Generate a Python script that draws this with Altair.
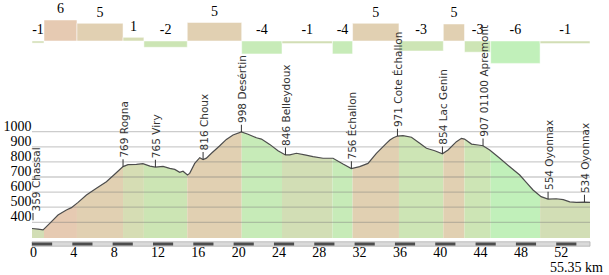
import altair as alt
import pandas as pd

TOTAL_KM = 55.35

# ---- elevation profile (km, metres) ----
prof_km = [0.0, 0.6, 1.1, 1.76, 2.58, 3.41, 3.91, 4.57, 5.4, 6.39, 7.38, 8.2, 9.03,
           9.52, 10.36, 11.0, 11.7, 12.24, 13.0, 13.66, 14.16, 14.65, 14.98, 15.42,
           15.64, 16.14, 16.64, 16.97, 17.3, 17.8, 18.6, 19.28, 19.94, 20.77, 21.43,
           22.26, 22.76, 23.58, 24.4, 25.14, 25.57, 26.23, 27.06, 27.88, 28.87, 29.86,
           30.85, 31.68, 32.5, 33.33, 34.16, 35.15, 35.5, 35.85, 36.25, 36.8, 37.64,
           38.46, 39.13, 39.95, 40.71, 41.27, 42.1, 42.6, 42.9, 43.6, 44.25, 44.74,
           45.4, 46.4, 47.39, 48.38, 49.05, 49.7, 50.5, 51.19, 52.0, 52.7, 53.34,
           54.0, 54.8, 55.35]
prof_elev = [359, 355, 350, 393, 448, 482, 497, 532, 581, 625, 669, 718, 769,
             782, 784, 788, 772, 765, 770, 757, 750, 731, 738, 713,
             724, 790, 828, 816, 825, 857, 905, 949, 978, 998, 983,
             960, 951, 916, 874, 846, 846, 857, 846, 835, 824, 824,
             786, 756, 769, 790, 857, 923, 945, 960, 971, 974, 963,
             923, 890, 874, 854, 879, 934, 956, 951, 918, 912, 907,
             879, 824, 768, 713, 662, 614, 570, 554, 556, 550, 535,
             532, 534, 532]

# ---- gradient segments (km, %) ----
seg_start = [0.0, 1.19, 4.46, 9.03, 11.1, 15.4, 20.8, 24.8, 29.8, 31.8, 36.4, 40.8, 42.9, 45.5, 50.4]
seg_grade = [-0.6, 6.0, 5.05, 1.05, -1.8, 5.3, -3.7, -0.75, -3.7, 5.05, -2.86, 4.86, -3.2, -6.4, -0.75]

# ---- named points ----
label_km = [0.0, 9.03, 12.24, 16.97, 20.77, 25.14, 31.68, 36.25, 40.71, 44.74, 51.19, 54.8]
label_elev = [359, 769, 765, 816, 998, 846, 756, 971, 854, 907, 554, 534]
label_name = ["Chassal", "Rogna", "Viry", "Choux", "Desértin", "Belleydoux", "Échallon",
              "Cote Échallon", "Lac Genin", "01100 Apremont", "Oyonnax", "Oyonnax"]

x_ticks = list(range(0, 53, 4))
y_ticks = [400, 500, 600, 700, 800, 900, 1000]

grade_classes = ["6", "5", "1", "-1", "-2", "-3", "-4", "-6"]
grade_colors = ["#e6cab2", "#e1d0b2", "#d6ddb4", "#d2deb5", "#cce5b4", "#cde5b5", "#c7ebb8", "#c1f0ba"]

W, H = 558, 238
ELEV_MIN, ELEV_MAX = 296, 1872
SERIF = "Liberation Serif"
SANS = "DejaVu Sans"

prof = pd.DataFrame({"km": prof_km, "elev": prof_elev})
seg_end = seg_start[1:] + [TOTAL_KM]
segs = pd.DataFrame({"start": seg_start, "end": seg_end, "grade": seg_grade})
segs["label"] = [str(int(round(g))) for g in seg_grade]
segs["mid"] = (segs["start"] + segs["end"]) / 2
segs["ly"] = segs["grade"].clip(lower=0)

labels = pd.DataFrame({"km": label_km, "elev": label_elev,
                       "text": [f"{e} {n}" for e, n in zip(label_elev, label_name)]})

bar_starts = [float(v) for v in range(0, int(TOTAL_KM) + 1, 2)]
scalebar = pd.DataFrame({"s": bar_starts, "e": [min(s + 2, TOTAL_KM) for s in bar_starts]})
scalebar_dark = scalebar.iloc[::2]
scalebar_full = pd.DataFrame({"s": [0.0], "e": [TOTAL_KM]})
xt = pd.DataFrame({"km": x_ticks, "t": [str(v) for v in x_ticks]})
yt = pd.DataFrame({"elev": y_ticks, "x0": [0.0] * len(y_ticks), "x1": [TOTAL_KM] * len(y_ticks)})

x_scale = alt.Scale(domain=[0, TOTAL_KM], nice=False, zero=False)
elev_scale = alt.Scale(domain=[ELEV_MIN, ELEV_MAX], nice=False, zero=False)
bar_scale = alt.Scale(domain=[-56.29, 11.71], nice=False, zero=False)
color_scale = alt.Scale(domain=grade_classes, range=grade_colors)

y_axis = alt.Axis(values=y_ticks, title=None, domain=False, ticks=False, format="d",
                  grid=False, labelAlign="right", labelBaseline="alphabetic",
                  labelOffset=-1.5, labelPadding=1, labelFont=SERIF, labelFontSize=14,
                  labelColor="black")


def X(f):
    return alt.X(f, type="quantitative", scale=x_scale, axis=None)


def YE(f="elev", axis=None):
    return alt.Y(f, type="quantitative", scale=elev_scale, axis=axis)


bands = alt.Chart(segs).mark_rect().encode(
    x=X("start"), x2="end",
    y=alt.value(0), y2=alt.value(H),
    color=alt.Color("label:N", scale=color_scale, legend=None),
)

mask = alt.Chart(prof).mark_area(color="white", opacity=1).encode(
    x=X("km"), y=YE(), y2=alt.datum(ELEV_MAX),
)

grid = alt.Chart(yt).mark_rule(color="#7a7a7a", strokeOpacity=0.38, strokeWidth=1.3).encode(
    y=YE(axis=y_axis), x=X("x0"), x2="x1",
)

line = alt.Chart(prof).mark_line(color="#4d4d4d", strokeWidth=1.2).encode(
    x=X("km"), y=YE(),
)

bars = alt.Chart(segs).mark_rect(stroke="white", strokeWidth=1, strokeOpacity=0.5).encode(
    x=X("start"), x2="end",
    y=alt.Y("grade:Q", scale=bar_scale, axis=None),
    y2=alt.datum(0),
    color=alt.Color("label:N", scale=color_scale, legend=None),
)

bar_text = alt.Chart(segs).mark_text(font=SERIF, fontSize=14, color="black",
                                     baseline="alphabetic", dy=-6.5).encode(
    x=X("mid"),
    y=alt.Y("ly:Q", scale=bar_scale, axis=None),
    text="label:N",
)

sb_full = alt.Chart(scalebar_full).mark_rect(fill="#dadada", stroke="#b0b0b0", strokeWidth=0.8).encode(
    x=X("s"), x2="e", y=alt.value(H + 3.8), y2=alt.value(H + 8.2),
)
sb_dark = alt.Chart(scalebar_dark).mark_rect(fill="#4d4d4d").encode(
    x=X("s"), x2="e", y=alt.value(H + 4.5), y2=alt.value(H + 7.5),
)

x_labels = alt.Chart(xt).mark_text(font=SERIF, fontSize=14, color="black", align="left",
                                   baseline="alphabetic", dx=-2).encode(
    x=X("km"), y=alt.value(H + 19), text="t:N",
)

first = labels.iloc[:1]
rest = labels.iloc[1:]

ticks = alt.Chart(rest).mark_tick(orient="vertical", size=7.3, thickness=1, color="#333",
                                  yOffset=-3.7, opacity=1).encode(x=X("km"), y=YE())
texts = alt.Chart(rest).mark_text(angle=270, align="left", baseline="middle", dx=9, dy=1.5,
                                  font=SANS, fontSize=10.5, color="#333").encode(
    x=X("km"), y=YE(), text="text:N",
)
tick0 = alt.Chart(first).mark_tick(orient="vertical", size=7.3, thickness=1, color="#333",
                                   yOffset=-11.9, xOffset=1, opacity=1).encode(x=X("km"), y=YE())
text0 = alt.Chart(first).mark_text(angle=270, align="left", baseline="middle", dx=17, dy=5,
                                   font=SANS, fontSize=10.5, color="#333").encode(
    x=X("km"), y=YE(), text="text:N",
)

km_text = alt.Chart(pd.DataFrame({"km": [TOTAL_KM], "t": [f"{TOTAL_KM} km"]})).mark_text(
    font=SERIF, fontSize=14, color="black", align="right", baseline="alphabetic", dx=13
).encode(x=X("km"), y=alt.value(H + 34), text="t:N")

chart = alt.layer(
    bands, mask, grid, line, bars, bar_text, sb_full, sb_dark, x_labels,
    ticks, texts, tick0, text0, km_text
).resolve_scale(y="independent").properties(
    width=W, height=H,
    padding={"left": 32, "top": 0, "right": 19, "bottom": 37},
    autosize=alt.AutoSizeParams(type="none"),
).configure_view(stroke=None)

chart.save("out.html", embed_options={"renderer": "svg", "actions": False})
